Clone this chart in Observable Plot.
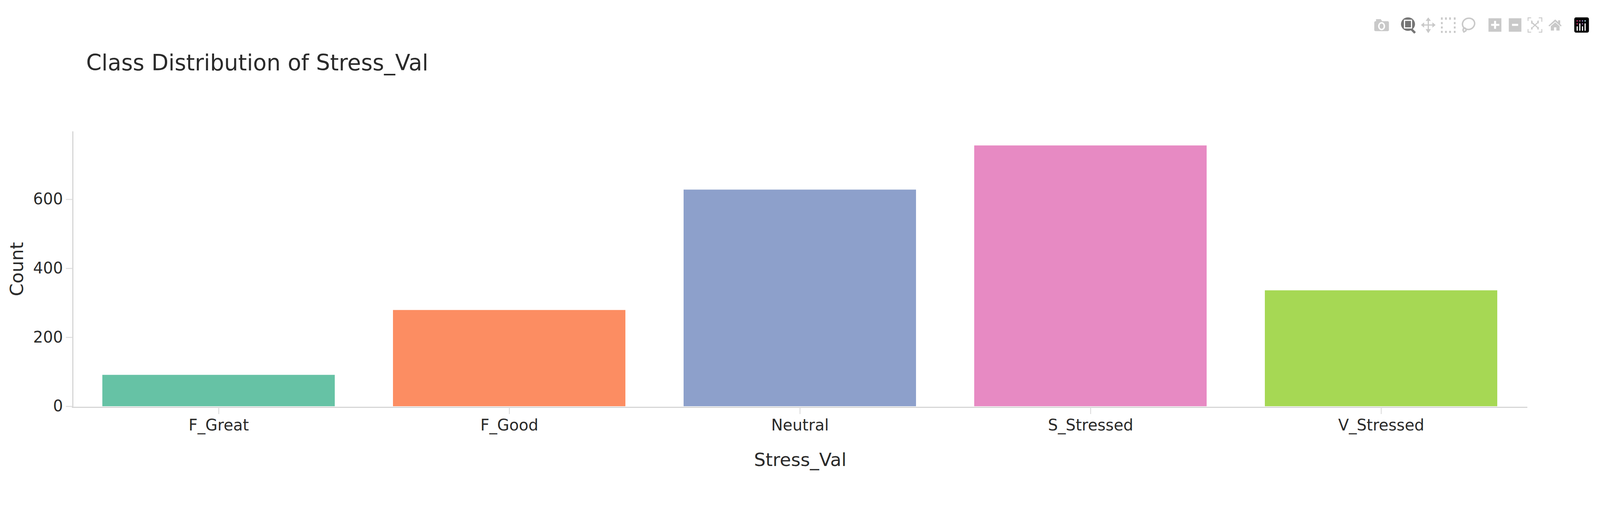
<!DOCTYPE html>
<html>
<head>
<meta charset="utf-8">
<script src="https://cdn.jsdelivr.net/npm/d3@7"></script>
<script src="https://cdn.jsdelivr.net/npm/@observablehq/plot@0.6"></script>
<style>
html,body{margin:0;padding:0;background:#fff;overflow:hidden;}
#page{position:relative;height:1321px;overflow:hidden;font-family:"DejaVu Sans",sans-serif;color:#2a2a2a;}
#chart{position:absolute;left:0;top:0;}
#title{position:absolute;top:119px;font-size:56.7px;line-height:82px;white-space:nowrap;}
#modebar{position:absolute;left:0;top:0;}
</style>
</head>
<body>
<div id="page">
  <div id="chart"></div>
  <div id="title"></div>
  <svg id="modebar" height="120" aria-hidden="true">
    <g class="icon" data-c="81" fill="#c9c9c9">
      <path fill-rule="evenodd" d="M62 44h16l5 7h18q5 0 5 5v25q0 4-5 4H61q-5 0-5-4V56q0-5 5-5h1z M81 54a12 14 0 1 0 .01 0z"/>
      <ellipse cx="81" cy="68" rx="7" ry="9"/>
    </g>
    <g class="icon" data-c="180">
      <ellipse cx="180" cy="61" rx="24" ry="23" fill="#757575"/>
      <rect x="168" y="48" width="24" height="26" fill="#757575" stroke="#fff" stroke-width="4"/>
      <path d="M191 78l13 13" stroke="#757575" stroke-width="8" fill="none"/>
    </g>
    <g class="icon" data-c="256" fill="#c9c9c9">
      <path d="M231 64l11-9v7h12V50h-7l9-12 9 12h-7v12h12v-7l11 9-11 9v-7h-12v12h7l-9 14-9-14h7V66h-12v7z"/>
    </g>
    <g class="icon" data-c="331" fill="#c9c9c9">
      <path d="M306 38h6v8h-6zM320 38h6v8h-6zM334 38h6v8h-6zM350 38h6v8h-6zM306 84h6v7h-6zM320 84h6v7h-6zM334 84h6v7h-6zM350 84h6v7h-6zM306 54h6v7h-6zM306 69h6v7h-6zM350 54h6v7h-6zM350 69h6v7h-6z"/>
    </g>
    <g class="icon" data-c="406" fill="none" stroke="#c9c9c9" stroke-width="5">
      <ellipse cx="407" cy="60" rx="21" ry="19" transform="rotate(-20 407 60)"/>
      <path d="M393 74c8 2 7 12 0 12c-7 0-6-10 1-13M392 86l-2 4"/>
    </g>
    <g class="icon" data-c="506" fill="#c9c9c9">
      <path fill-rule="evenodd" d="M484 41h44v46h-44z M503 50v10h-10v7h10v10h7V67h11v-7H510V50z"/>
    </g>
    <g class="icon" data-c="581" fill="#c9c9c9">
      <path fill-rule="evenodd" d="M560 41h43v46h-43z M571 60v7h21v-7z"/>
    </g>
    <g class="icon" data-c="656" fill="#c9c9c9">
      <path d="M631 38h12v3h-9v9h-3zM669 38h12v15h-3v-12h-9zM631 78h3v9h9v3h-12zM678 78h3v12h-12v-3h9z"/>
      <path d="M643 48l6 3-2 3 9 8 9-8-2-3 6-3v11l-3-1-7 6 7 7 3-1v10l-6-2 2-3-9-8-9 8 2 3-6 2V71l3 1 7-7-7-6-3 1z"/>
    </g>
    <g class="icon" data-c="732" fill="#c9c9c9">
      <path d="M709 66l23-21 10 9v-6h7v13l5 5-3 3-19-17-20 17zM717 68l15-13 15 13v15h-11V72h-8v11h-11z"/>
    </g>
    <g class="icon" data-c="831">
      <rect x="806" y="38" width="50" height="52" rx="6" fill="#000"/>
      <g stroke="#fff" stroke-width="4" stroke-linecap="round">
        <path d="M816 70v12M825 60v22M834 70v12M843 60v22"/>
      </g>
      <circle cx="816" cy="50" r="2.6" fill="#b5295f"/><circle cx="825" cy="50" r="2.6" fill="#b06a8f"/><circle cx="834" cy="50" r="2.6" fill="#8a7fb0"/><circle cx="843" cy="50" r="2.6" fill="#9fd0e0"/>
      <circle cx="816" cy="60" r="2.6" fill="#b5295f"/><circle cx="834" cy="60" r="2.6" fill="#8a5f9a"/>
    </g>
  </svg>
</div>
<script>
const titleText = "Class Distribution of Stress_Val";
const xLabel = "Stress_Val";
const yLabel = "Count";
const categories = ["F_Great", "F_Good", "Neutral", "S_Stressed", "V_Stressed"];
const counts = [91, 279, 628, 756, 336];
const palette = ["#66c2a5", "#fc8d62", "#8da0cb", "#e78ac3", "#a6d854"];
const yTicks = [0, 200, 400, 600];
const rows = categories.map((c, i) => ({category: c, count: counts[i]}));

// The browser window may be narrower than the nominal 6000px: keep the whole chart inside it.
const W = Math.min(window.innerWidth || 6000, 6000);
const k = W / 6000;

const page = document.getElementById("page");
page.style.width = W + "px";
const title = document.getElementById("title");
title.textContent = titleText;
title.style.left = (323 * k) + "px";

const bar = document.getElementById("modebar");
bar.setAttribute("width", W);
const iconScale = Math.max(k, 0.75);
bar.querySelectorAll(".icon").forEach(g => {
  const c = +g.dataset.c;
  g.setAttribute("transform", `translate(${k * (5100 + c)},64) scale(${iconScale}) translate(${-c},-64)`);
});

const lineColor = "#cfcfcf", tickColor = "#dedede", ink = "#2a2a2a";
const marginLeft = 275 * k;

const chart = Plot.plot({
  width: W,
  height: 1321,
  marginTop: 337,
  marginBottom: 281,
  marginLeft,
  marginRight: 275 * k,
  style: {background: "#fff", fontFamily: "'DejaVu Sans', sans-serif"},
  x: {domain: categories, paddingInner: 0.2, paddingOuter: 0.1, align: 0.5, label: null},
  y: {domain: [0, 796], label: null},
  color: {domain: categories, range: palette},
  marks: [
    Plot.barY(rows, {x: "category", y: "count", fill: "category"}),
    Plot.frame({anchor: "bottom", stroke: lineColor, strokeWidth: 2.5, dy: 2.3, strokeOpacity: 1, insetLeft: -3}),
    Plot.frame({anchor: "left", stroke: lineColor, strokeWidth: 2.5, dx: -1.8, strokeOpacity: 1}),
    Plot.axisX({
      tickSize: 17, tickPadding: 13, dy: 3, fontSize: 40, stroke: tickColor, strokeWidth: 2.5,
      fill: ink, label: null
    }),
    Plot.axisY({
      ticks: yTicks, tickSize: 17, tickPadding: 8, dx: -2, fontSize: 40, stroke: tickColor, strokeWidth: 2.5,
      fill: ink, label: null
    }),
    Plot.text([xLabel], {
      frameAnchor: "bottom", textAnchor: "middle", lineAnchor: "bottom", dy: 152,
      fontSize: 46.7, fill: ink
    }),
    Plot.text([yLabel], {
      frameAnchor: "left", textAnchor: "middle", lineAnchor: "bottom", rotate: -90, dx: 58 - marginLeft,
      fontSize: 46.7, fill: ink
    })
  ]
});
document.getElementById("chart").appendChild(chart);
</script>
</body>
</html>
